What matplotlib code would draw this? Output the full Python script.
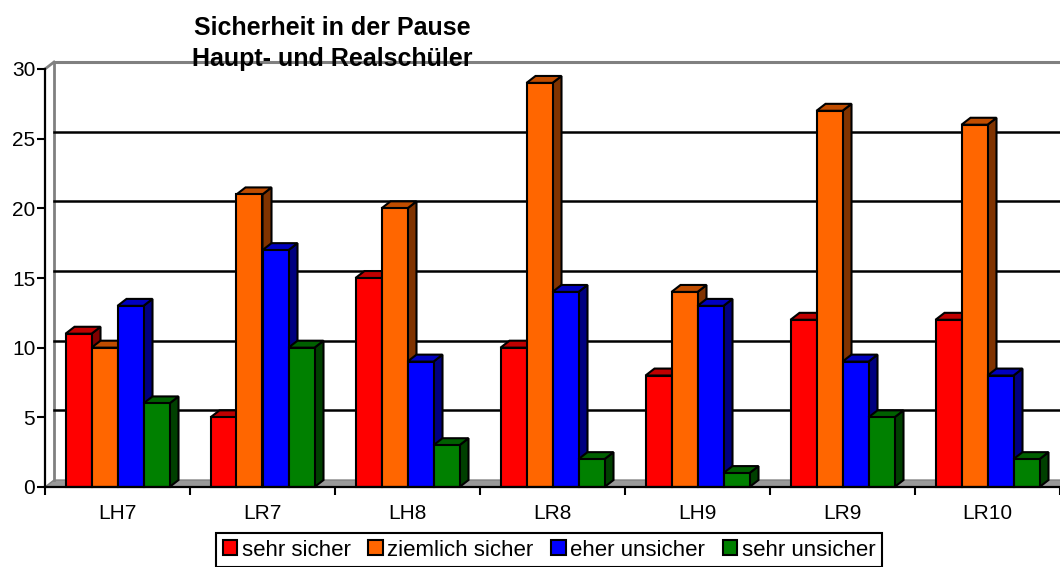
import matplotlib
matplotlib.use("Agg")
import matplotlib.pyplot as plt
from matplotlib.patches import Polygon, Rectangle, Patch
import numpy as np

# data
klassen = ["LH7", "LR7", "LH8", "LR8", "LH9", "LR9", "LR10"]
serien = ["sehr sicher", "ziemlich sicher", "eher unsicher", "sehr unsicher"]
sehr_sicher = [11, 5, 15, 10, 8, 12, 12]
ziemlich_sicher = [10, 21, 20, 29, 14, 27, 26]
eher_unsicher = [13, 17, 9, 14, 13, 9, 8]
sehr_unsicher = [6, 10, 3, 2, 1, 5, 2]
werte = [sehr_sicher, ziemlich_sicher, eher_unsicher, sehr_unsicher]

# front, top, side colours per series
farben = [("#FF0000", "#C00000", "#800000"),
          ("#FF6600", "#C04D00", "#803300"),
          ("#0000FF", "#0000C0", "#000080"),
          ("#008000", "#006000", "#004000")]

plt.rcParams["font.family"] = ["Liberation Sans", "DejaVu Sans"]

fig = plt.figure(figsize=(10.6, 5.67), dpi=100)
W, H = 1060, 567
ax = fig.add_axes([45 / W, (H - 487) / H, 1015 / W, 418 / H])
ax.set_xlim(0, 7)
ax.set_ylim(0, 30)

dx = 9 / 145.0   # depth offset in x (data units)
dy = 0.5         # depth offset in y (data units)
bw = 26 / 145.0  # bar width

# floor
ax.add_patch(Polygon([(0, 0), (dx, dy), (7 + dx, dy), (7, 0)], closed=True,
                     facecolor="#999999", edgecolor="#808080", lw=1,
                     clip_on=False, zorder=1))
# back wall borders
ax.plot([dx, dx], [dy, 30 + dy], color="#808080", lw=2, clip_on=False, zorder=1)
ax.plot([0, dx], [30, 30 + dy], color="#808080", lw=2, clip_on=False, zorder=1)
ax.plot([dx, 7 + dx], [30 + dy, 30 + dy], color="#808080", lw=2.2,
        clip_on=False, zorder=1)
# gridlines on the back wall
for g in [5, 10, 15, 20, 25]:
    ax.plot([dx, 7 + dx], [g + dy, g + dy], color="black", lw=1.8,
            clip_on=False, zorder=1)

z = 3
for i in range(len(klassen)):
    start = i + 0.5 - 2 * bw
    for s in range(len(serien)):
        v = werte[s][i]
        x0 = start + s * bw
        front, top, side = farben[s]
        ax.add_patch(Polygon([(x0 + bw, 0), (x0 + bw + dx, dy), (x0 + bw + dx, v + dy),
                              (x0 + bw, v)], closed=True, facecolor=side,
                             edgecolor="black", lw=1.5, clip_on=False, zorder=z))
        ax.add_patch(Polygon([(x0, v), (x0 + dx, v + dy), (x0 + bw + dx, v + dy),
                              (x0 + bw, v)], closed=True, facecolor=top,
                             edgecolor="black", lw=1.5, clip_on=False, zorder=z))
        ax.add_patch(Rectangle((x0, 0), bw, v, facecolor=front, edgecolor="black",
                               lw=1.5, clip_on=False, zorder=z + 0.5))
        z += 1

for sp in ["top", "right"]:
    ax.spines[sp].set_visible(False)
for sp in ["left", "bottom"]:
    ax.spines[sp].set_linewidth(1.6)
    ax.spines[sp].set_zorder(100)

ax.set_yticks(range(0, 31, 5))
ax.tick_params(axis="y", direction="out", length=6, width=1.5, labelsize=15, pad=1)
ax.set_xticks(range(0, 8))
ax.set_xticklabels([])
ax.set_xticks(np.arange(len(klassen)) + 0.5, minor=True)
ax.set_xticklabels(klassen, minor=True, fontsize=15)
ax.tick_params(axis="x", which="major", direction="out", length=6, width=1.5)
ax.tick_params(axis="x", which="minor", length=0, pad=12)

fig.text(332 / W, 1 - 35 / H, "Sicherheit in der Pause", ha="center",
         va="baseline", fontsize=18, fontweight="bold", zorder=200)
fig.text(332 / W, 1 - 66 / H, "Haupt- und Realschüler", ha="center",
         va="baseline", fontsize=18, fontweight="bold", zorder=200)

handles = [Patch(facecolor=f[0], edgecolor="black", lw=1.5) for f in farben]
leg = fig.legend(handles, serien, loc="upper center", ncol=4,
                 bbox_to_anchor=(549 / W, (H - 533) / H), fontsize=16,
                 frameon=True, fancybox=False, edgecolor="black", framealpha=1,
                 handlelength=0.65, handleheight=0.65, handletextpad=0.2,
                 columnspacing=0.8, borderpad=0.3, borderaxespad=0)
leg.get_frame().set_linewidth(1.5)

fig.savefig("out.png", dpi=100)
